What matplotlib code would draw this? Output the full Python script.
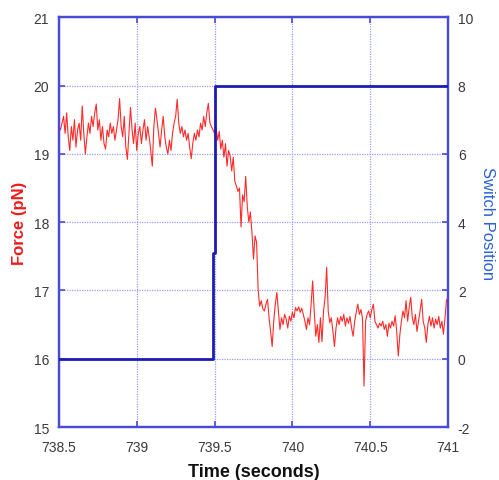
from __future__ import annotations

import matplotlib

matplotlib.use("Agg")
import matplotlib.pyplot as plt

plt.rcParams["font.family"] = ["Liberation Sans", "DejaVu Sans"]
plt.rcParams["axes.unicode_minus"] = False

# Force trace, sampled every 10 ms
time_s = [
    738.50, 738.51, 738.52, 738.53, 738.54, 738.55, 738.56, 738.57, 738.58, 738.59,
    738.60, 738.61, 738.62, 738.63, 738.64, 738.65, 738.66, 738.67, 738.68, 738.69,
    738.70, 738.71, 738.72, 738.73, 738.74, 738.75, 738.76, 738.77, 738.78, 738.79,
    738.80, 738.81, 738.82, 738.83, 738.84, 738.85, 738.86, 738.87, 738.88, 738.89,
    738.90, 738.91, 738.92, 738.93, 738.94, 738.95, 738.96, 738.97, 738.98, 738.99,
    739.00, 739.01, 739.02, 739.03, 739.04, 739.05, 739.06, 739.07, 739.08, 739.09,
    739.10, 739.11, 739.12, 739.13, 739.14, 739.15, 739.16, 739.17, 739.18, 739.19,
    739.20, 739.21, 739.22, 739.23, 739.24, 739.25, 739.26, 739.27, 739.28, 739.29,
    739.30, 739.31, 739.32, 739.33, 739.34, 739.35, 739.36, 739.37, 739.38, 739.39,
    739.40, 739.41, 739.42, 739.43, 739.44, 739.45, 739.46, 739.47, 739.48, 739.49,
    739.50, 739.51, 739.52, 739.53, 739.54, 739.55, 739.56, 739.57, 739.58, 739.59,
    739.60, 739.61, 739.62, 739.63, 739.64, 739.65, 739.66, 739.67, 739.68, 739.69,
    739.70, 739.71, 739.72, 739.73, 739.74, 739.75, 739.76, 739.77, 739.78, 739.79,
    739.80, 739.81, 739.82, 739.83, 739.84, 739.85, 739.86, 739.87, 739.88, 739.89,
    739.90, 739.91, 739.92, 739.93, 739.94, 739.95, 739.96, 739.97, 739.98, 739.99,
    740.00, 740.01, 740.02, 740.03, 740.04, 740.05, 740.06, 740.07, 740.08, 740.09,
    740.10, 740.11, 740.12, 740.13, 740.14, 740.15, 740.16, 740.17, 740.18, 740.19,
    740.20, 740.21, 740.22, 740.23, 740.24, 740.25, 740.26, 740.27, 740.28, 740.29,
    740.30, 740.31, 740.32, 740.33, 740.34, 740.35, 740.36, 740.37, 740.38, 740.39,
    740.40, 740.41, 740.42, 740.43, 740.44, 740.45, 740.46, 740.47, 740.48, 740.49,
    740.50, 740.51, 740.52, 740.53, 740.54, 740.55, 740.56, 740.57, 740.58, 740.59,
    740.60, 740.61, 740.62, 740.63, 740.64, 740.65, 740.66, 740.67, 740.68, 740.69,
    740.70, 740.71, 740.72, 740.73, 740.74, 740.75, 740.76, 740.77, 740.78, 740.79,
    740.80, 740.81, 740.82, 740.83, 740.84, 740.85, 740.86, 740.87, 740.88, 740.89,
    740.90, 740.91, 740.92, 740.93, 740.94, 740.95, 740.96, 740.97, 740.98, 740.99,
    741.00,
]
force_pn = [
    19.40, 19.35, 19.45, 19.55, 19.30, 19.60, 19.25, 19.05, 19.40, 19.20,
    19.50, 19.10, 19.35, 19.45, 19.20, 19.70, 19.30, 19.00, 19.25, 19.45,
    19.30, 19.55, 19.40, 19.60, 19.73, 19.35, 19.50, 19.20, 19.40, 19.15,
    19.07, 19.35, 19.25, 19.45, 19.30, 19.40, 19.20, 19.35, 19.50, 19.81,
    19.40, 19.25, 19.55, 19.10, 18.92, 19.30, 19.68, 19.35, 19.15, 19.45,
    19.05, 19.30, 19.40, 19.15, 19.35, 19.50, 19.20, 19.40, 19.25, 19.05,
    18.82, 19.40, 19.67, 19.50, 19.30, 19.10, 19.35, 19.55, 19.25, 19.10,
    19.00, 19.20, 19.05, 19.30, 19.45, 19.55, 19.80, 19.45, 19.30, 19.40,
    19.25, 19.35, 19.20, 19.30, 19.10, 18.93, 19.15, 19.30, 19.20, 19.35,
    19.25, 19.45, 19.35, 19.55, 19.40, 19.60, 19.74, 19.45, 19.40, 19.35,
    19.30, 19.38, 19.20, 19.33, 19.07, 19.20, 18.95, 19.15, 18.82, 19.05,
    18.97, 18.75, 18.95, 18.60, 18.53, 18.45, 18.50, 17.93, 18.40, 18.30,
    18.67, 18.23, 18.00, 18.15, 17.85, 17.46, 17.80, 17.70, 17.00, 16.77,
    16.85, 16.73, 16.70, 16.80, 16.87, 16.60, 16.40, 16.18, 16.55, 16.80,
    16.97, 16.70, 16.43, 16.60, 16.50, 16.65, 16.58, 16.45, 16.62, 16.55,
    16.68, 16.60, 16.75, 16.70, 16.76, 16.68, 16.74, 16.65, 16.55, 16.43,
    16.60, 16.50, 16.80, 17.14, 16.70, 16.33, 16.50, 16.24, 16.60, 16.25,
    16.70, 16.90, 17.34, 16.70, 16.53, 16.60, 16.40, 16.18, 16.45, 16.60,
    16.50, 16.62, 16.55, 16.65, 16.48, 16.60, 16.52, 16.62, 16.45, 16.33,
    16.55, 16.68, 16.80, 16.65, 16.72, 16.60, 15.60, 16.55, 16.65, 16.70,
    16.60, 16.72, 16.80, 16.55, 16.50, 16.45, 16.52, 16.48, 16.55, 16.43,
    16.50, 16.33, 16.52, 16.45, 16.55, 16.48, 16.63, 16.40, 16.04, 16.35,
    16.55, 16.70, 16.60, 16.85, 16.55, 16.75, 16.90, 16.60, 16.50, 16.65,
    16.40, 16.55, 16.70, 16.87, 16.55, 16.45, 16.24, 16.50, 16.62, 16.48,
    16.60, 16.45, 16.58, 16.50, 16.62, 16.45, 16.55, 16.36, 16.60, 16.87,
    16.80,
]

# Switch position trace
switch_time_s = [738.50, 739.49, 739.49, 739.50, 739.50, 741.00]
switch_pos = [0, 0, 3.1, 3.1, 8, 8]

x_ticks = [738.5, 739.0, 739.5, 740.0, 740.5, 741.0]
x_tick_labels = ["738.5", "739", "739.5", "740", "740.5", "741"]
force_ticks = [15, 16, 17, 18, 19, 20, 21]
switch_ticks = [-2, 0, 2, 4, 6, 8, 10]

AXIS_BLUE = "#4a4ad8"
GRID_BLUE = "#9c9cf2"
TICK_TEXT = "#3a3a3a"


def build_figure(output_path: str = "out.png") -> None:
    fig = plt.figure(figsize=(4.99, 4.81), dpi=100)
    ax = fig.add_axes([0.118, 0.110, 0.780, 0.852])
    ax2 = ax.twinx()

    ax.plot(time_s, force_pn, color="#ff2a2a", lw=0.8, zorder=3)
    ax2.plot(switch_time_s, switch_pos, color="#1c1cb4", lw=2.0, zorder=4)

    ax.set_xlim(738.5, 741.0)
    ax.set_ylim(15, 21)
    ax2.set_ylim(-2, 10)

    ax.set_xticks(x_ticks)
    ax.set_xticklabels(x_tick_labels)
    ax.set_yticks(force_ticks)
    ax2.set_yticks(switch_ticks)

    ax.grid(True, color=GRID_BLUE, linestyle=(0, (1, 1)), lw=0.9)
    ax.set_axisbelow(True)

    for a in (ax, ax2):
        for spine in a.spines.values():
            spine.set_color(AXIS_BLUE)
            spine.set_linewidth(1.6)

    ax.tick_params(axis="y", direction="in", length=4, width=1.2,
                   color=AXIS_BLUE, labelcolor=TICK_TEXT, labelsize=10, pad=7)
    ax.tick_params(axis="x", direction="in", length=4, width=1.2,
                   color=AXIS_BLUE, labelcolor=TICK_TEXT, labelsize=10,
                   top=True, pad=9)
    ax2.tick_params(axis="y", direction="in", length=4, width=1.2,
                    color=AXIS_BLUE, labelcolor=TICK_TEXT, labelsize=10, pad=7)

    ax.set_xlabel("Time (seconds)", fontsize=13, fontweight="bold",
                  color="#111111", labelpad=7)
    ax.set_ylabel("Force (pN)", fontsize=12, fontweight="bold",
                  color="#ee1c1c", labelpad=5)
    ax2.set_ylabel("Switch Position", fontsize=12, color="#2a62d8",
                   rotation=-90, labelpad=16)

    fig.savefig(output_path, dpi=100)
    plt.close(fig)


if __name__ == "__main__":
    build_figure()
